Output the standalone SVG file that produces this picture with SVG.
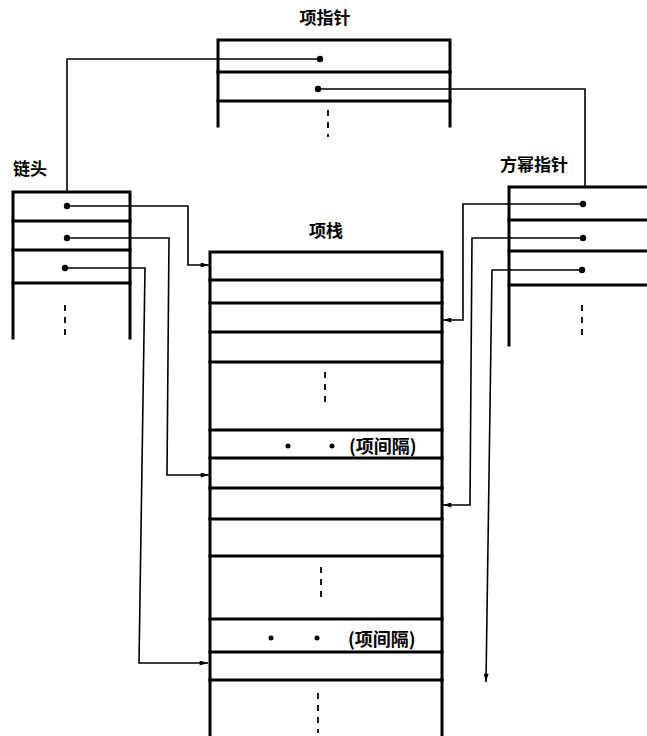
<svg xmlns="http://www.w3.org/2000/svg" width="647" height="736" viewBox="0 0 647 736">
<defs>
<style>
.box{fill:none;stroke:#000;stroke-width:3;stroke-linecap:square}
.conn{fill:none;stroke:#000;stroke-width:1.6}
.dash{fill:none;stroke:#000;stroke-width:1.8;stroke-dasharray:6,6}
.lbl{font-family:"Noto Sans CJK SC","Noto Sans",sans-serif;font-weight:bold;font-size:17px;fill:#000}
.gap{font-family:"Noto Sans CJK SC","Noto Sans",sans-serif;font-weight:bold;font-size:18px;fill:#000}
.dot{fill:#000}
</style>
<marker id="arr" viewBox="0 0 10 6" refX="10" refY="3" markerWidth="9" markerHeight="5" markerUnits="userSpaceOnUse" orient="auto">
<path d="M0,0 L10,3 L0,6 Z" fill="#000"/>
</marker>
</defs>
<rect width="647" height="736" fill="#fff"/>

<g id="connectors">
<path class="conn" d="M320,59 H67 V192"/>
<path class="conn" d="M318,89 H585 V187"/>
<path class="conn" d="M67,206 H188 V265 H209" marker-end="url(#arr)"/>
<path class="conn" d="M67,238 H169 L167,475 H209" marker-end="url(#arr)"/>
<path class="conn" d="M65,268 H145 L139,663 H208" marker-end="url(#arr)"/>
<path class="conn" d="M583,204 H463 V320 H443" marker-end="url(#arr)"/>
<path class="conn" d="M583,238 H472 L470,505 H443" marker-end="url(#arr)"/>
<path class="conn" d="M582,270 H492 L486,682" marker-end="url(#arr)"/>
</g>

<g id="item-pointer">
<text class="lbl" x="325" y="24" text-anchor="middle">项指针</text>
<path class="box" d="M218,126 V40 H450 V126"/>
<line class="box" x1="218" y1="72" x2="450" y2="72"/>
<line class="box" x1="218" y1="101" x2="450" y2="101"/>
<circle class="dot" cx="320" cy="59" r="3.2"/>
<circle class="dot" cx="318" cy="89" r="3.2"/>
<line class="dash" x1="328" y1="110" x2="328" y2="137"/>
</g>

<g id="chain-head">
<text class="lbl" x="13" y="175">链头</text>
<path class="box" d="M13,338 V192 H130 V338"/>
<line class="box" x1="13" y1="221" x2="130" y2="221"/>
<line class="box" x1="13" y1="250" x2="130" y2="250"/>
<line class="box" x1="13" y1="283" x2="130" y2="283"/>
<circle class="dot" cx="67" cy="206" r="3.2"/>
<circle class="dot" cx="67" cy="238" r="3.2"/>
<circle class="dot" cx="65" cy="268" r="3.2"/>
<line class="dash" x1="65" y1="305" x2="65" y2="336"/>
</g>

<g id="power-pointer">
<text class="lbl" x="500" y="171">方幂指针</text>
<path class="box" d="M509,345 V187 H647"/>
<line class="box" x1="509" y1="220" x2="647" y2="220"/>
<line class="box" x1="509" y1="251" x2="647" y2="251"/>
<line class="box" x1="509" y1="285" x2="647" y2="285"/>
<circle class="dot" cx="583" cy="204" r="3.2"/>
<circle class="dot" cx="583" cy="238" r="3.2"/>
<circle class="dot" cx="582" cy="270" r="3.2"/>
<line class="dash" x1="582" y1="305" x2="582" y2="340"/>
</g>

<g id="item-stack">
<text class="lbl" x="326" y="237" text-anchor="middle">项栈</text>
<path class="box" d="M210,740 V252 H442 V740"/>
<g class="box">
<line x1="210" y1="280" x2="442" y2="280"/>
<line x1="210" y1="303" x2="442" y2="303"/>
<line x1="210" y1="332" x2="442" y2="332"/>
<line x1="210" y1="362" x2="442" y2="362"/>
<line x1="210" y1="430" x2="442" y2="430"/>
<line x1="210" y1="458" x2="442" y2="458"/>
<line x1="210" y1="488" x2="442" y2="488"/>
<line x1="210" y1="519" x2="442" y2="519"/>
<line x1="210" y1="556" x2="442" y2="556"/>
<line x1="210" y1="619" x2="442" y2="619"/>
<line x1="210" y1="652" x2="442" y2="652"/>
<line x1="210" y1="680" x2="442" y2="680"/>
</g>
<line class="dash" x1="325" y1="372" x2="325" y2="408"/>
<line class="dash" x1="321" y1="567" x2="321" y2="603"/>
<line class="dash" x1="318" y1="693" x2="318" y2="733"/>
<circle class="dot" cx="288" cy="446" r="2.5"/>
<circle class="dot" cx="332" cy="446" r="2.5"/>
<text class="gap" x="349" y="453">(项间隔)</text>
<circle class="dot" cx="271" cy="638" r="2.5"/>
<circle class="dot" cx="317" cy="638" r="2.5"/>
<text class="gap" x="348" y="646">(项间隔)</text>
</g>
</svg>
